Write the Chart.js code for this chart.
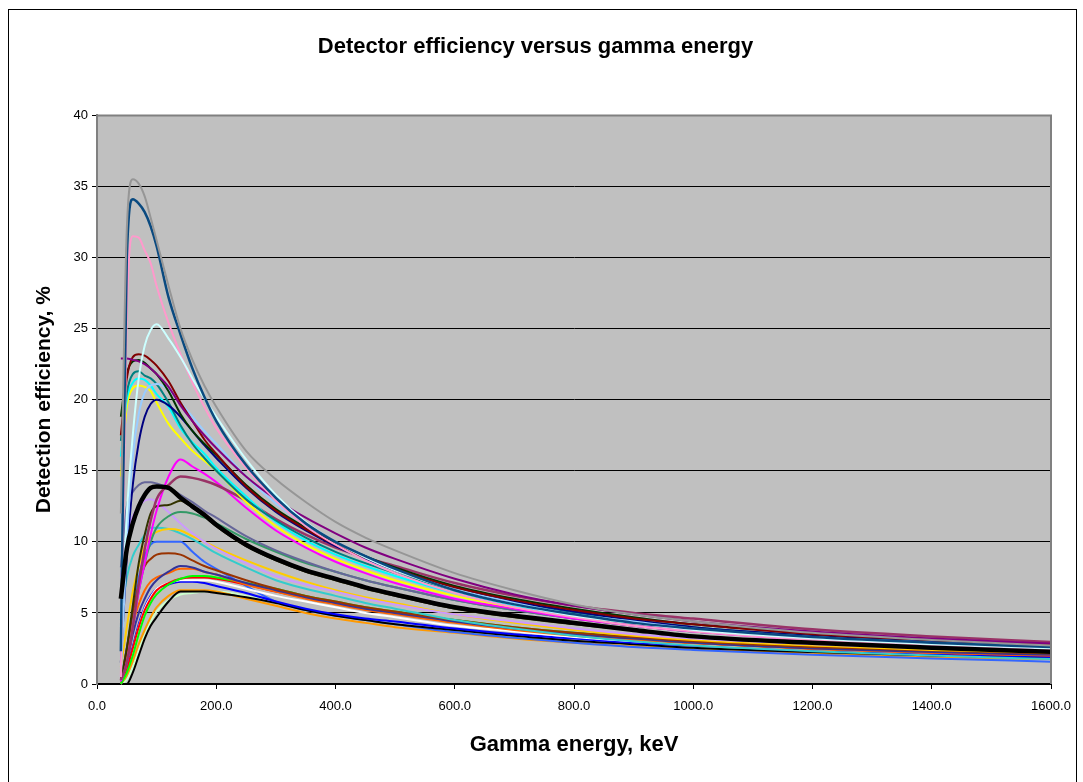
<!DOCTYPE html>
<html>
<head>
<meta charset="utf-8">
<script src="https://cdn.jsdelivr.net/npm/chart.js@4.4.1/dist/chart.umd.min.js"></script>
<style>
  html, body { margin: 0; padding: 0; background: #ffffff; }
  #wrap { width: 1083px; height: 782px; }
</style>
</head>
<body>
<div id="wrap"><canvas id="eff" width="1083" height="782"></canvas></div>
<script>
// Gamma energies (keV) at which every detector curve is sampled
const energyKeV = [40, 50, 60, 70, 80, 90, 100, 120, 140, 160, 180, 200, 250, 300, 350, 400, 450, 500, 600, 700, 800, 900, 1000, 1200, 1400, 1600];

// Detection efficiency (%) for each detector configuration
const det01 = [12, 32, 35.5, 35.2, 34.3, 32.8, 31.2, 28, 25, 22.8, 21, 19.5, 16.4, 14.4, 12.8, 11.4, 10.3, 9.4, 7.8, 6.6, 5.6, 4.9, 4.4, 3.6, 3.1, 2.7];
const det02 = [2.3, 30, 34.1, 33.8, 33.2, 32.2, 30.8, 27.2, 24.6, 22.2, 20.2, 18.5, 15.4, 13.1, 11.3, 10.0, 9.0, 8.1, 6.6, 5.6, 4.9, 4.3, 3.9, 3.3, 2.9, 2.6];
const det03 = [0.5, 26, 31.5, 31.4, 30.5, 29.6, 28, 25.4, 23.2, 21.2, 19.5, 18, 15.2, 12.9, 11.1, 9.8, 8.7, 7.8, 6.4, 5.4, 4.7, 4.1, 3.7, 3.1, 2.7, 2.4];
const det04 = [4, 12, 17.5, 21.5, 23.8, 24.9, 25.3, 24.3, 23, 21.5, 20.1, 18.8, 15.8, 13.3, 11.4, 10.0, 8.9, 8.0, 6.6, 5.6, 4.8, 4.3, 3.8, 3.2, 2.8, 2.5];
const det05 = [17.5, 21.5, 23, 23.2, 23.1, 22.8, 22.4, 21.3, 19.8, 18.5, 17.2, 16.2, 13.9, 12.2, 10.9, 9.8, 8.9, 8.1, 6.8, 5.9, 5.2, 4.6, 4.2, 3.5, 3.1, 2.8];
const det06 = [22.9, 22.9, 22.8, 22.7, 22.5, 22.2, 21.8, 20.9, 19.6, 18.5, 17.5, 16.6, 14.6, 13.0, 11.7, 10.6, 9.6, 8.8, 7.4, 6.3, 5.5, 4.9, 4.4, 3.7, 3.2, 2.85];
const det07 = [18.8, 21.8, 22.7, 22.8, 22.6, 22.2, 21.8, 20.6, 19.0, 17.8, 16.9, 16.1, 14.0, 12.3, 11.0, 9.9, 9.0, 8.2, 6.9, 6.0, 5.3, 4.7, 4.2, 3.6, 3.1, 2.75];
const det08 = [17.1, 20.5, 21.8, 22, 21.7, 21.5, 21.1, 19.8, 18.2, 16.9, 15.9, 15.0, 13.0, 11.5, 10.3, 9.3, 8.5, 7.8, 6.6, 5.7, 5.0, 4.5, 4.0, 3.4, 3.0, 2.65];
const det09 = [16, 20, 21.2, 21.5, 21.4, 21, 20.4, 19.5, 18.0, 17.0, 16.2, 15.2, 13.2, 11.4, 10.1, 9.1, 8.3, 7.6, 6.4, 5.5, 4.8, 4.3, 3.9, 3.3, 2.9, 2.6];
const det10 = [14.6, 19.5, 20.8, 21, 20.9, 20.6, 19.8, 18.3, 17.3, 16.4, 15.7, 15.0, 12.8, 11.1, 9.8, 8.8, 8.0, 7.3, 6.2, 5.4, 4.8, 4.3, 3.9, 3.3, 3.0, 2.7];
const det11 = [1.5, 9, 14, 17, 18.8, 19.7, 20, 19.6, 18.8, 17.8, 16.8, 15.9, 13.8, 12.1, 10.8, 9.7, 8.8, 8.0, 6.7, 5.8, 5.1, 4.5, 4.0, 3.4, 3.0, 2.7];
const det12 = [0.5, 10, 16, 19, 20.5, 21, 21.1, 20.7, 19.8, 18.8, 17.8, 16.9, 14.6, 12.7, 11.2, 10.0, 9.0, 8.1, 6.7, 5.7, 4.9, 4.4, 3.9, 3.3, 2.9, 2.6];
const det13 = [0.2, 1.5, 4, 6.5, 8.5, 10.5, 12.2, 14.6, 15.8, 15.3, 14.8, 14.2, 12.4, 10.8, 9.6, 8.6, 7.8, 7.1, 6.0, 5.3, 4.6, 4.1, 3.7, 3.1, 2.7, 2.45];
const det14 = [0.3, 1.5, 4, 7, 9.5, 11.5, 13, 14, 14.6, 14.5, 14.3, 14, 12.9, 11.6, 10.5, 9.6, 8.9, 8.3, 7.1, 6.2, 5.5, 5.0, 4.6, 3.85, 3.35, 2.95];
const det15 = [8.2, 12.5, 13.5, 14, 14.2, 14.2, 14.1, 13.8, 13.3, 12.8, 12.2, 11.7, 10.4, 9.4, 8.6, 7.9, 7.3, 6.8, 5.9, 5.2, 4.6, 4.1, 3.7, 3.2, 2.8, 2.5];
const det16 = [7.5, 10.5, 11.8, 12.5, 12.9, 13, 12.8, 12.1, 11.3, 10.6, 10.0, 9.5, 8.5, 7.6, 7.0, 6.5, 6.0, 5.6, 4.9, 4.4, 3.9, 3.5, 3.2, 2.8, 2.5, 2.3];
const det17 = [0.2, 2.5, 5.5, 8.5, 10.5, 12, 12.5, 12.6, 12.9, 12.4, 11.8, 11.1, 9.7, 8.7, 7.9, 7.3, 6.7, 6.2, 5.3, 4.7, 4.2, 3.8, 3.4, 2.9, 2.6, 2.3];
const det18 = [0.2, 1.5, 4, 6.5, 8.5, 10, 11, 11.8, 12.1, 12, 11.7, 11.3, 10.2, 9.3, 8.5, 7.9, 7.3, 6.8, 5.9, 5.2, 4.6, 4.1, 3.7, 3.2, 2.8, 2.5];
const det19 = [6, 9.5, 11.3, 12.5, 13.3, 13.8, 13.9, 13.8, 13.1, 12.5, 11.9, 11.2, 9.8, 8.8, 8.0, 7.4, 6.8, 6.3, 5.4, 4.8, 4.3, 3.8, 3.35, 2.9, 2.55, 2.27];
const det20 = [4.5, 7.5, 9, 9.8, 10.5, 11, 11, 10.9, 10.6, 10.2, 9.7, 9.2, 8.2, 7.3, 6.7, 6.2, 5.7, 5.3, 4.5, 3.9, 3.4, 3.0, 2.7, 2.3, 2.0, 1.75];
const det21 = [1.2, 4, 6.5, 8.3, 9.7, 10.4, 10.7, 10.9, 10.8, 10.4, 10, 9.6, 8.7, 7.9, 7.2, 6.6, 6.1, 5.7, 4.9, 4.3, 3.8, 3.4, 3.1, 2.7, 2.4, 2.2];
const det22 = [0.3, 2.5, 5, 7.5, 9, 9.8, 10, 10, 10, 9.3, 8.6, 8.1, 6.9, 5.8, 5.2, 4.8, 4.5, 4.2, 3.65, 3.25, 2.9, 2.6, 2.4, 2.05, 1.8, 1.57];
const det23 = [0.3, 2.5, 5, 7, 8.3, 8.8, 9.1, 9.2, 9.1, 8.7, 8.3, 8.0, 7.3, 6.7, 6.2, 5.8, 5.4, 5.1, 4.5, 4.0, 3.6, 3.3, 3.0, 2.6, 2.35, 2.15];
const det24 = [0.2, 1.5, 3.5, 5, 6, 6.8, 7.3, 7.9, 8.3, 8.2, 7.9, 7.7, 7.1, 6.6, 6.1, 5.7, 5.3, 5.0, 4.4, 3.9, 3.5, 3.2, 2.9, 2.5, 2.25, 2.05];
const det25 = [0.3, 2.2, 4.2, 5.6, 6.6, 7.2, 7.5, 7.8, 8.1, 8.1, 7.9, 7.7, 7.0, 6.5, 6.0, 5.6, 5.2, 4.9, 4.3, 3.8, 3.4, 3.1, 2.85, 2.45, 2.2, 2.0];
const det26 = [0, 1, 2.5, 4, 5.2, 6, 6.6, 7.1, 7.4, 7.5, 7.5, 7.4, 7.0, 6.5, 6.1, 5.7, 5.3, 5.0, 4.4, 3.9, 3.5, 3.2, 2.9, 2.5, 2.2, 2.0];
const det27 = [0, 0.8, 2, 3.5, 4.8, 5.7, 6.3, 7, 7.4, 7.6, 7.6, 7.5, 7.1, 6.7, 6.2, 5.8, 5.4, 5.1, 4.5, 4.0, 3.6, 3.3, 3.0, 2.55, 2.25, 2.05];
const det28 = [0, 1, 2.6, 4.2, 5.4, 6.2, 6.7, 7, 7.2, 7.2, 7.1, 6.9, 6.4, 5.8, 5.3, 4.9, 4.6, 4.4, 3.9, 3.5, 3.2, 2.9, 2.7, 2.35, 2.1, 1.9];
const det29 = [0, 0.9, 2.4, 4, 5.3, 6.1, 6.7, 7.1, 7.3, 7.3, 7.3, 7.2, 6.7, 6.2, 5.8, 5.4, 5.0, 4.7, 4.1, 3.7, 3.3, 3.0, 2.8, 2.45, 2.2, 2.1];
const det30 = [0, 0.6, 1.6, 2.8, 3.8, 4.7, 5.4, 6.2, 6.6, 6.6, 6.6, 6.5, 6.0, 5.5, 5.0, 4.6, 4.3, 4.0, 3.6, 3.2, 2.9, 2.65, 2.45, 2.15, 1.9, 1.75];
const det31 = [0, 0, 0.8, 2, 3.2, 4.1, 4.7, 5.8, 6.5, 6.5, 6.5, 6.4, 6.1, 5.7, 5.2, 4.8, 4.5, 4.2, 3.8, 3.4, 3.05, 2.8, 2.55, 2.25, 2.0, 1.85];
const det32 = [0, 0.3, 1.2, 2.4, 3.5, 4.4, 5.1, 5.9, 6.3, 6.4, 6.5, 6.5, 6.2, 5.7, 5.2, 4.8, 4.5, 4.2, 3.7, 3.3, 3.0, 2.7, 2.5, 2.2, 1.95, 1.8];

// Axis tick values
const energyTicks = [0, 200, 400, 600, 800, 1000, 1200, 1400, 1600];
const efficiencyTicks = [0, 5, 10, 15, 20, 25, 30, 35, 40];

// Curves in drawing order (later ones are painted on top)
const curves = [
  { values: det32, color: '#CCFFCC', width: 2 },
  { values: det30, color: '#FF9900', width: 2 },
  { values: det22, color: '#3366FF', width: 2 },
  { values: det31, color: '#000000', width: 2 },
  { values: det28, color: '#0000FF', width: 2 },
  { values: det29, color: '#FFFFFF', width: 2 },
  { values: det26, color: '#FF0000', width: 2 },
  { values: det27, color: '#00FF00', width: 2 },
  { values: det25, color: '#FF6600', width: 2 },
  { values: det24, color: '#333399', width: 2 },
  { values: det23, color: '#993300', width: 2 },
  { values: det20, color: '#33CCCC', width: 2 },
  { values: det21, color: '#FFCC00', width: 2 },
  { values: det16, color: '#CC99FF', width: 2 },
  { values: det18, color: '#339966', width: 2 },
  { values: det17, color: '#333300', width: 2 },
  { values: det15, color: '#666699', width: 2 },
  { values: det13, color: '#FF00FF', width: 2 },
  { values: det14, color: '#993366', width: 2.5 },
  { values: det10, color: '#FFFF00', width: 2 },
  { values: det09, color: '#00FFFF', width: 2 },
  { values: det08, color: '#008080', width: 2 },
  { values: det11, color: '#000080', width: 2 },
  { values: det12, color: '#99CCFF', width: 2 },
  { values: det07, color: '#003300', width: 2 },
  { values: det05, color: '#800000', width: 2 },
  { values: det06, color: '#800080', width: 2 },
  { values: det03, color: '#FF99CC', width: 2 },
  { values: det04, color: '#CCFFFF', width: 2 },
  { values: det02, color: '#0A4A80', width: 2.5 },
  { values: det19, color: '#000000', width: 4.5 },
  { values: det01, color: '#969696', width: 2 }
];

const FONT = "'Liberation Sans', Arial, sans-serif";

// Chart.js paints dataset 0 last, so reverse the drawing order
const datasets = curves.slice().reverse().map(c => ({
  data: energyKeV.map((e, k) => ({ x: e, y: c.values[k] })),
  borderColor: c.color,
  borderWidth: c.width,
  pointRadius: 0,
  fill: false,
  cubicInterpolationMode: 'monotone',
  clip: 2
}));

// Grey plot area, page frame and plot border
const framePlugin = {
  id: 'frame',
  beforeDraw(chart) {
    const { ctx, chartArea: a } = chart;
    ctx.save();
    ctx.fillStyle = '#ffffff';
    ctx.fillRect(0, 0, chart.width, chart.height);
    ctx.strokeStyle = '#000000';
    ctx.lineWidth = 1;
    ctx.strokeRect(8.5, 9.5, 1068, 800);
    ctx.fillStyle = '#C0C0C0';
    ctx.fillRect(a.left, a.top, a.right - a.left, a.bottom - a.top);
    ctx.restore();
  },
  afterDraw(chart) {
    const { ctx, chartArea: a } = chart;
    ctx.save();
    ctx.strokeStyle = '#808080';
    ctx.lineWidth = 2;
    ctx.beginPath();
    ctx.moveTo(a.left, a.top);
    ctx.lineTo(a.right, a.top);
    ctx.lineTo(a.right, a.bottom);
    ctx.stroke();
    ctx.restore();
  }
};

new Chart(document.getElementById('eff'), {
  type: 'line',
  data: { datasets },
  plugins: [framePlugin],
  options: {
    responsive: false,
    animation: false,
    devicePixelRatio: 1,
    layout: { padding: { left: 20, right: 32, top: 0, bottom: 0 } },
    plugins: {
      legend: { display: false },
      tooltip: { enabled: false },
      title: {
        display: true,
        text: 'Detector efficiency versus gamma energy',
        color: '#000000',
        font: { family: FONT, size: 22, weight: 'bold' },
        padding: { top: 34, bottom: 55 }
      }
    },
    scales: {
      x: {
        type: 'linear',
        min: 0,
        max: 1600,
        afterFit(scale) { scale.height = 98; },
        afterBuildTicks(scale) { scale.ticks = energyTicks.map(v => ({ value: v })); },
        ticks: {
          color: '#000000',
          font: { family: FONT, size: 13 },
          padding: 10,
          maxRotation: 0,
          autoSkip: false,
          callback: v => Number(v).toFixed(1)
        },
        grid: { drawOnChartArea: false, drawTicks: true, tickLength: 5, color: '#000000' },
        border: { color: '#000000', width: 2 },
        title: {
          display: true,
          text: 'Gamma energy, keV',
          color: '#000000',
          font: { family: FONT, size: 22, weight: 'bold' },
          padding: { top: 0, bottom: 24 }
        }
      },
      y: {
        type: 'linear',
        min: 0,
        max: 40,
        afterFit(scale) { scale.width = 77; },
        afterBuildTicks(scale) { scale.ticks = efficiencyTicks.map(v => ({ value: v })); },
        ticks: {
          color: '#000000',
          font: { family: FONT, size: 13 },
          padding: 4,
          callback: v => String(v)
        },
        grid: { color: '#000000', lineWidth: 1, tickLength: 5 },
        border: { color: '#808080', width: 2 },
        title: {
          display: true,
          text: 'Detection efficiency, %',
          color: '#000000',
          font: { family: FONT, size: 21, weight: 'bold' },
          padding: { top: 12, bottom: 0 }
        }
      }
    }
  }
});
</script>
</body>
</html>
